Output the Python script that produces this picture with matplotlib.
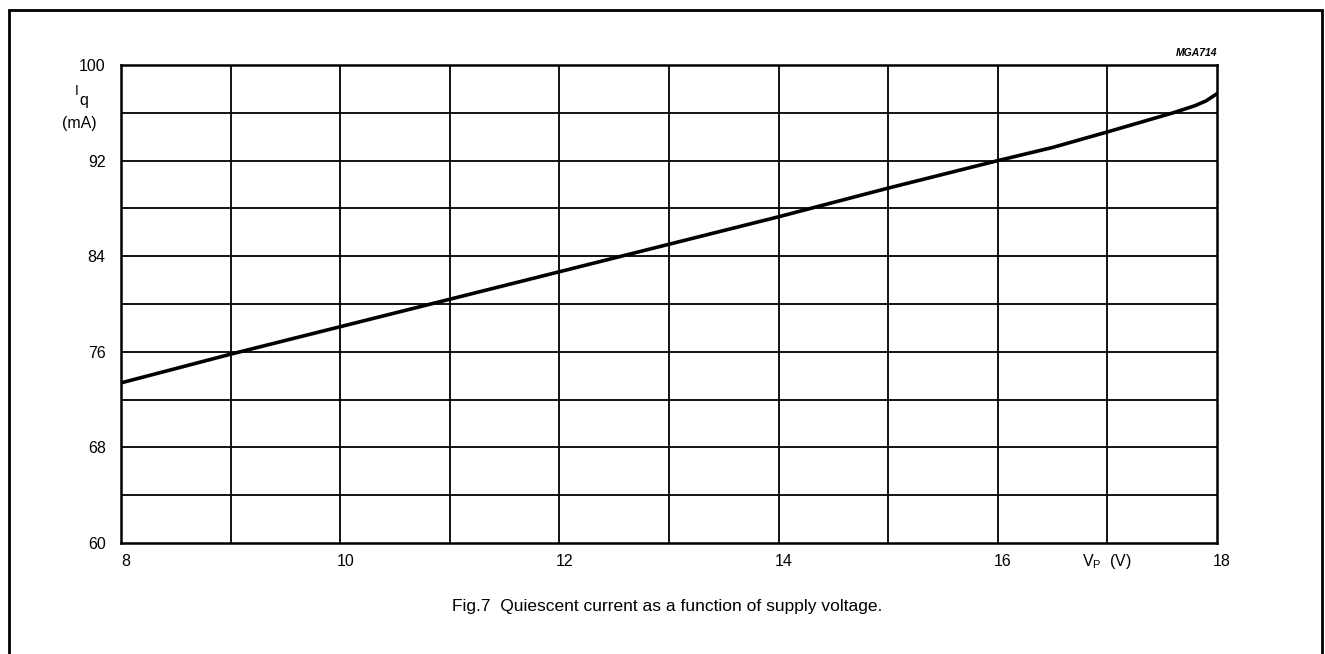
import matplotlib
matplotlib.use("Agg")
import matplotlib.pyplot as plt
from matplotlib.patches import Rectangle
from matplotlib.transforms import ScaledTranslation

plt.rcParams['font.family'] = ['Liberation Sans', 'DejaVu Sans']
plt.rcParams['mathtext.fontset'] = 'custom'
plt.rcParams['mathtext.rm'] = 'Liberation Sans'
plt.rcParams['mathtext.it'] = 'Liberation Sans:italic'

# Data
vp = [8.0, 9.0, 10.0, 11.0, 12.0, 13.0, 14.0, 15.0, 16.0, 16.5, 17.0, 17.3, 17.6, 17.8, 17.9, 18.0]
iq = [73.4, 75.8, 78.1, 80.4, 82.7, 85.0, 87.3, 89.7, 92.0, 93.1, 94.4, 95.2, 96.0, 96.6, 97.0, 97.6]

x_ticks = [8, 10, 12, 14, 16, 18]
y_ticks = [60, 68, 76, 84, 92, 100]
x_grid = [9, 10, 11, 12, 13, 14, 15, 16, 17]
y_grid = [64, 68, 72, 76, 80, 84, 88, 92, 96]

fig = plt.figure(figsize=(13.25, 6.54), dpi=100)
ax = fig.add_axes([0.0913, 0.1697, 0.8272, 0.7309])

for g in x_grid:
    ax.axvline(g, color='black', lw=1.3, zorder=1)
for g in y_grid:
    ax.axhline(g, color='black', lw=1.3, zorder=1)

ax.plot(vp, iq, color='black', lw=2.6, zorder=3)

ax.set_xlim(8, 18)
ax.set_ylim(60, 100)
ax.set_xticks(x_ticks)
ax.set_yticks(y_ticks)
ax.tick_params(length=0, labelsize=11.5, pad=8)
ax.tick_params(axis='y', pad=11)
shift = ScaledTranslation(5 / 100, 0, fig.dpi_scale_trans)
for lbl in ax.get_xticklabels():
    lbl.set_transform(lbl.get_transform() + shift)
for s in ax.spines.values():
    s.set_linewidth(1.8)

ax.text(17.0, -0.0195, r'V$_{\mathregular{P}}$  (V)', transform=ax.get_xaxis_transform(),
        ha='center', va='top', fontsize=11.5)
ax.text(-0.0425, 0.945, 'I', transform=ax.transAxes,
        ha='left', va='center', fontsize=10)
ax.text(-0.0375, 0.925, 'q', transform=ax.transAxes,
        ha='left', va='center', fontsize=11.5)
ax.text(-0.054, 0.878, '(mA)', transform=ax.transAxes,
        ha='left', va='center', fontsize=11.5)
ax.text(1.0, 1.015, 'MGA714', transform=ax.transAxes, ha='right', va='bottom',
        fontsize=7.5, fontstyle='italic', fontweight='bold')

fig.text(0.5035, 0.073, 'Fig.7  Quiescent current as a function of supply voltage.',
         ha='center', va='center', fontsize=12.5)

fig.patches.append(Rectangle((9/1325, -0.05), (1322-9)/1325, 1 - 10/654 + 0.05,
                             transform=fig.transFigure, fill=False, lw=2.0,
                             edgecolor='black'))

fig.savefig('out.png', dpi=100)
